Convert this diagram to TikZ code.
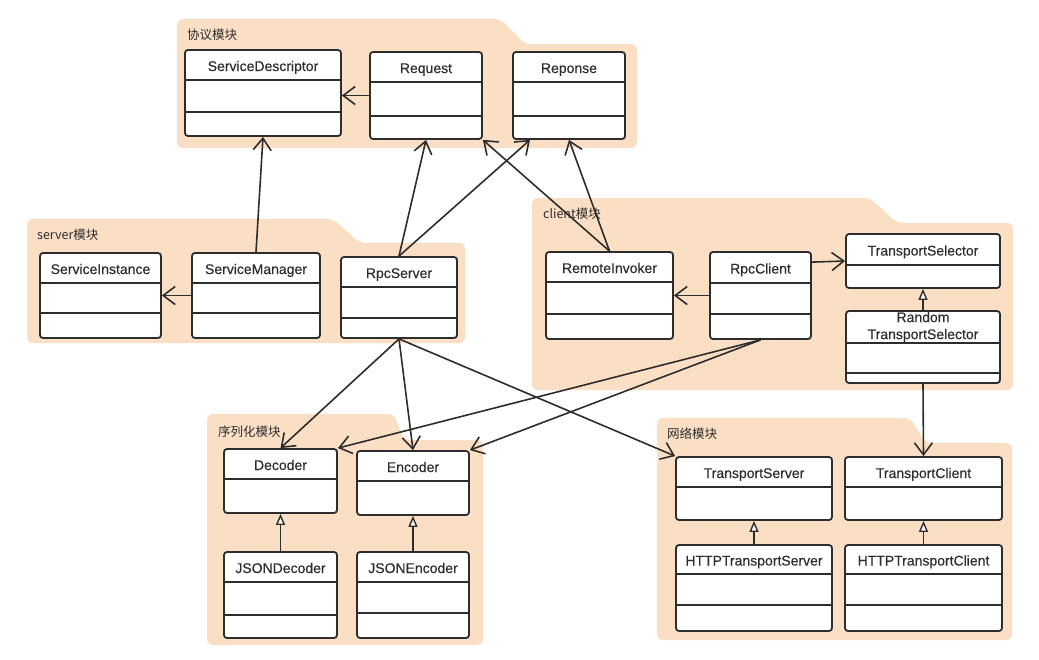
\documentclass[tikz,border=0pt]{standalone}
\usepackage{fontspec}
\setmainfont{Liberation Sans}[FakeBold=0.35]
\newfontfamily\clsfont{Liberation Sans}[FakeBold=0.35]
\newfontfamily\cjk{Noto Sans CJK SC}
\usetikzlibrary{arrows.meta,calc}
\definecolor{pkg}{RGB}{250,223,197}
\definecolor{ink}{RGB}{45,45,45}
\tikzset{
 cls/.style={draw=ink, line width=1.8pt, fill=white, rounded corners=3pt, inner sep=0pt},
 clsname/.style={font=\clsfont\fontsize{14}{17}\selectfont, text=ink, align=center, inner sep=0pt},
 oneline/.style={text height=10pt, text depth=0pt},
 cline/.style={draw=ink, line width=1.8pt},
 pkgshape/.style={fill=pkg, rounded corners=6pt},
 pkglbl/.style={font=\cjk\fontsize{12.5}{15}\selectfont, text=ink, anchor=west, inner sep=0pt},
 assoc/.style={draw=ink, line width=1.6pt, -{Straight Barb[length=12pt,width=18pt,line width=1.6pt]}},
 inherit/.style={draw=ink, line width=1.6pt, -{Triangle[open,length=11pt,width=9pt,fill=white,line width=1.4pt]}},
}
\newcommand\clsbox[8]{%
 \node[cls, minimum width={(#4-#2)*1pt}, minimum height={(#5-#3)*1pt}] (#1) at ({(#2+#4)/2},{(#3+#5)/2}) {};
 \node[clsname,oneline] (#1-t) at ({(#2+#4)/2},{(#3+#6)/2+1}) {#8};
 \draw[cline] (#2,#6) -- (#4,#6);
 \ifx&#7&\else\draw[cline] (#2,#7) -- (#4,#7);\fi
}
\begin{document}
\begin{tikzpicture}[x=1pt,y=-1pt]
\useasboundingbox[fill=white] (0,0) rectangle (1039,659);
% packages
\fill[pkgshape] (177,19) -- (500,19) -- (525,44) -- (637,44) -- (637,148) -- (177,148) -- cycle;
\fill[pkgshape] (27,219) -- (333,219) -- (360,243) -- (465,243) -- (465,343) -- (27,343) -- cycle;
\fill[pkgshape] (532,198) -- (870,198) -- (897,223) -- (1013,223) -- (1013,390) -- (532,390) -- cycle;
\fill[pkgshape] (207,414) -- (394,414) -- (404,440) -- (483,440) -- (483,645) -- (207,645) -- cycle;
\fill[pkgshape] (657,418) -- (910,418) -- (926,443) -- (1012,443) -- (1012,640) -- (657,640) -- cycle;
\node[pkglbl] (p1) at (187,35) {协议模块};
\node[pkglbl] (p2) at (37,235) {server模块};
\node[pkglbl] (p3) at (543,214) {client模块};
\node[pkglbl] (p4) at (218,432) {序列化模块};
\node[pkglbl] (p5) at (667,434) {网络模块};
% classes
\clsbox{sd}{185}{50}{341}{136}{80}{112}{ServiceDescriptor}
\clsbox{req}{370}{52}{482}{139}{82}{116}{Request}
\clsbox{rep}{513}{52}{625}{139}{82}{116}{Reponse}
\clsbox{si}{40}{253}{161}{338}{283}{313}{ServiceInstance}
\clsbox{sm}{192}{253}{320}{338}{283}{313}{ServiceManager}
\clsbox{rpcs}{341}{257}{457}{338}{287}{318}{RpcServer}
\clsbox{ri}{546}{252}{673}{339}{282}{314}{RemoteInvoker}
\clsbox{rpcc}{710}{252}{811}{339}{283}{314}{RpcClient}
\clsbox{ts}{846}{234}{1000}{288}{265}{}{TransportSelector}
\clsbox{rts}{846}{311}{1000}{383}{343}{373}{}
\node[clsname] (rts-name) at (923,327) {Random\\TransportSelector};
\clsbox{dec}{224}{449}{337}{513}{479}{}{Decoder}
\clsbox{enc}{357}{451}{469}{515}{481}{}{Encoder}
\clsbox{jd}{224}{552}{337}{638}{582}{615}{JSONDecoder}
\clsbox{je}{357}{552}{469}{638}{582}{613}{JSONEncoder}
\clsbox{tsv}{676}{457}{832}{520}{487}{}{TransportServer}
\clsbox{tc}{845}{457}{1002}{520}{487}{}{TransportClient}
\clsbox{hts}{676}{545}{832}{631}{574}{605}{HTTPTransportServer}
\clsbox{htc}{845}{545}{1002}{631}{574}{605}{HTTPTransportClient}
% connectors
\draw[assoc] (req.west) -- (req.west -| sd.east);
\draw[assoc] (sm.north) -- (sd.south);
\draw[assoc] (sm.west) -- (si.east);
\draw[assoc] (rpcs.north) -- (req.south);
\draw[assoc] (rpcs.north) -- ([xshift=-39pt]rep.south);
\draw[assoc] (ri.north) -- (req.south east);
\draw[assoc] (ri.north) -- (rep.south);
\draw[assoc] (rpcc.west) -- (ri.east);
\draw[assoc] ([yshift=-11pt]rpcc.north east) -- (ts.west);
\draw[inherit] (rts.north) -- (ts.south);
\draw[assoc] (rts.south) -- (tc.north);
\draw[assoc] (rpcs.south) -- (dec.north);
\draw[assoc] (rpcs.south) -- (enc.north);
\draw[assoc] (rpcs.south) -- (tsv.north west);
\draw[assoc] (rpcc.south) -- (dec.north east);
\draw[assoc] (rpcc.south) -- (enc.north east);
\draw[inherit] (jd.north) -- (dec.south);
\draw[inherit] (je.north) -- (enc.south);
\draw[inherit] (hts.north) -- (tsv.south);
\draw[inherit] (htc.north) -- (tc.south);
\end{tikzpicture}
\end{document}
